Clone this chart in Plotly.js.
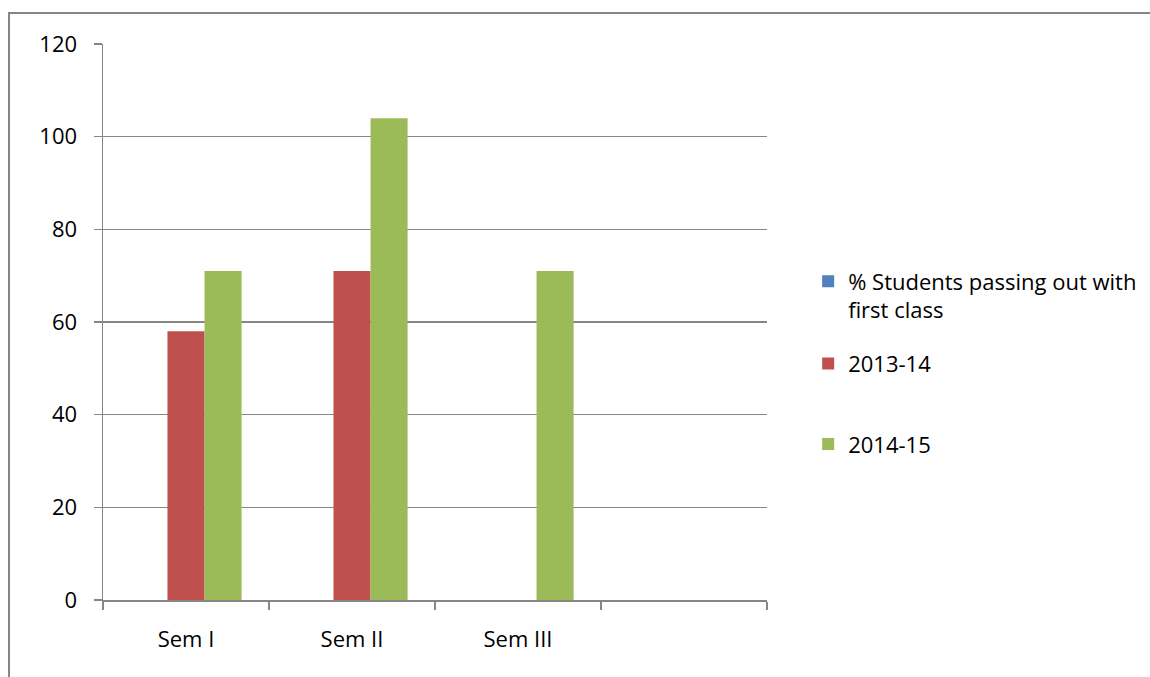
<!DOCTYPE html>
<html>
<head>
<meta charset="utf-8">
<script src="https://cdn.plot.ly/plotly-3.0.1.min.js"></script>
<style>
    html, body { margin: 0; padding: 0; background: #fff; overflow: hidden; }
    #frame {
        position: absolute; left: 8px; top: 12px;
        width: 1200px; height: 700px;
        border-left: 2px solid #868686; border-top: 2px solid #868686;
    }
    #chart { position: absolute; left: 0; top: 0; width: 1150px; height: 677px; }
</style>
</head>
<body>
<div id="frame"></div>
<div id="chart"></div>
<script>
// chart data
const semesters = ["Sem I", "Sem II", "Sem III"];
const allSlots = ["Sem I", "Sem II", "Sem III", " "];
const firstClass = [null, null, null];
const year1314 = [58, 71, null];
const year1415 = [71, 104, 71];
const yTicks = [0, 20, 40, 60, 80, 100, 120];

const font = "'Open Sans', Lato, sans-serif";
const fontSize = 22;
const axisGrey = "#868686";

const traces = [
    { x: semesters, y: firstClass, type: "bar", name: "% Students passing out with<br>first class",
      marker: { color: "#4F81BD" }, legend: "legend" },
    { x: semesters, y: year1314, type: "bar", name: "2013-14",
      marker: { color: "#C0504D" }, legend: "legend2" },
    { x: semesters, y: year1415, type: "bar", name: "2014-15",
      marker: { color: "#9BBB59" }, legend: "legend3" }
];

// one legend box per series so the entries can be spaced like the original
function legendAt(y) {
    return {
        x: 1.062, xanchor: "left",
        y: y, yanchor: "middle",
        itemwidth: 30,
        valign: "top",
        bgcolor: "rgba(0,0,0,0)",
        font: { family: font, size: fontSize }
    };
}

const layout = {
    width: 1150,
    height: 677,
    margin: { l: 103, r: 383, t: 44, b: 77, autoexpand: false },
    paper_bgcolor: "rgba(0,0,0,0)",
    plot_bgcolor: "rgba(0,0,0,0)",
    font: { family: font, size: fontSize, color: "#000" },
    barmode: "group",
    bargap: 0.33,
    bargroupgap: 0,
    showlegend: true,
    legend: legendAt(0.547),
    legend2: legendAt(0.425),
    legend3: legendAt(0.28),
    xaxis: {
        type: "category",
        categoryorder: "array",
        categoryarray: allSlots,
        range: [-0.5, 3.5],
        showline: true, linecolor: axisGrey, linewidth: 1.5,
        ticks: "outside", tickson: "boundaries", ticklen: 8, tickcolor: axisGrey, tickwidth: 1.5,
        ticklabelstandoff: 19,
        showgrid: false, zeroline: false,
        fixedrange: true
    },
    yaxis: {
        range: [0, 120],
        tickvals: yTicks,
        showline: true, linecolor: axisGrey, linewidth: 1.5,
        ticks: "outside", ticklen: 8, tickcolor: axisGrey, tickwidth: 1.5,
        ticklabelstandoff: 12,
        showgrid: true, gridcolor: axisGrey, gridwidth: 1.5,
        zeroline: false,
        fixedrange: true
    }
};

Plotly.newPlot("chart", traces, layout, { displayModeBar: false, staticPlot: true });
</script>
</body>
</html>
